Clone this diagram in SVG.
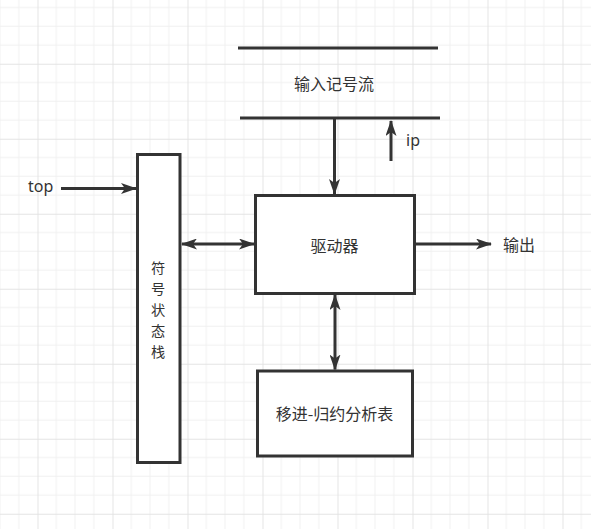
<svg xmlns="http://www.w3.org/2000/svg" width="591" height="529" viewBox="0 0 591 529">
<style>
.box{fill:#ffffff;stroke:#333333;stroke-width:3}
.bar{stroke:#333333;stroke-width:3;fill:none}
.conn{stroke:#333333;stroke-width:3;fill:none}
.lbl{font-family:"Noto Sans","Noto Sans CJK SC",sans-serif;font-size:16px;fill:#333333}
.cjk{font-family:"Noto Sans CJK SC","Noto Sans",sans-serif;font-size:16px;fill:#333333}
.vert{font-family:"Noto Sans CJK SC","Noto Sans",sans-serif;font-size:14.2px;fill:#333333}
</style>
<defs>
<pattern id="grid" patternUnits="userSpaceOnUse" x="37.5" y="63.75" width="75" height="75">
<path d="M18.75,0V75M37.5,0V75M56.25,0V75M0,18.75H75M0,37.5H75M0,56.25H75" stroke="#f0f0f0" stroke-width="1" fill="none"/>
<path d="M0.5,0V75M0,0.5H75" stroke="#e4e4e4" stroke-width="1" fill="none"/>
</pattern>
<marker id="arr" markerUnits="userSpaceOnUse" markerWidth="16" markerHeight="11" refX="15" refY="5.5" orient="auto-start-reverse" viewBox="0 0 16 11">
<path d="M0,0 L16,5.5 L0,11 L4,5.5 Z" fill="#333333"/>
</marker>
</defs>
<rect x="0" y="0" width="591" height="529" fill="#ffffff"/>
<rect x="0" y="0" width="591" height="529" fill="url(#grid)"/>

<g id="input-stream">
<line class="bar" x1="238" y1="48" x2="438" y2="48"/>
<line class="bar" x1="240" y1="118" x2="440" y2="118"/>
<text class="cjk" x="334" y="90" text-anchor="middle">输入记号流</text>
</g>

<g id="stack">
<rect class="box" x="137.5" y="154.5" width="42.5" height="308"/>
<text class="vert" text-anchor="middle"><tspan x="158" y="272.5">符</tspan><tspan x="158" y="293.5">号</tspan><tspan x="158" y="314.5">状</tspan><tspan x="158" y="335.5">态</tspan><tspan x="158" y="356.5">栈</tspan></text>
</g>

<g id="driver">
<rect class="box" x="255.5" y="195.5" width="159" height="98"/>
<text class="cjk" x="334.5" y="252" text-anchor="middle">驱动器</text>
</g>

<g id="table">
<rect class="box" x="257.5" y="371" width="155" height="85"/>
<text class="cjk" x="334.5" y="420" text-anchor="middle">移进-归约分析表</text>
</g>

<g id="labels">
<text class="lbl" x="28" y="192">top</text>
<text class="lbl" x="406" y="146">ip</text>
<text class="cjk" x="503" y="251">输出</text>
</g>

<g id="connectors">
<line class="conn" x1="61" y1="188.5" x2="136" y2="188.5" marker-end="url(#arr)"/>
<line class="conn" x1="334.5" y1="119" x2="334.5" y2="194" marker-end="url(#arr)"/>
<line class="conn" x1="391" y1="161" x2="391" y2="121" marker-end="url(#arr)"/>
<line class="conn" x1="182" y1="244" x2="254" y2="244" marker-start="url(#arr)" marker-end="url(#arr)"/>
<line class="conn" x1="415" y1="244" x2="491" y2="244" marker-end="url(#arr)"/>
<line class="conn" x1="335" y1="295" x2="335" y2="369.5" marker-start="url(#arr)" marker-end="url(#arr)"/>
</g>
</svg>
